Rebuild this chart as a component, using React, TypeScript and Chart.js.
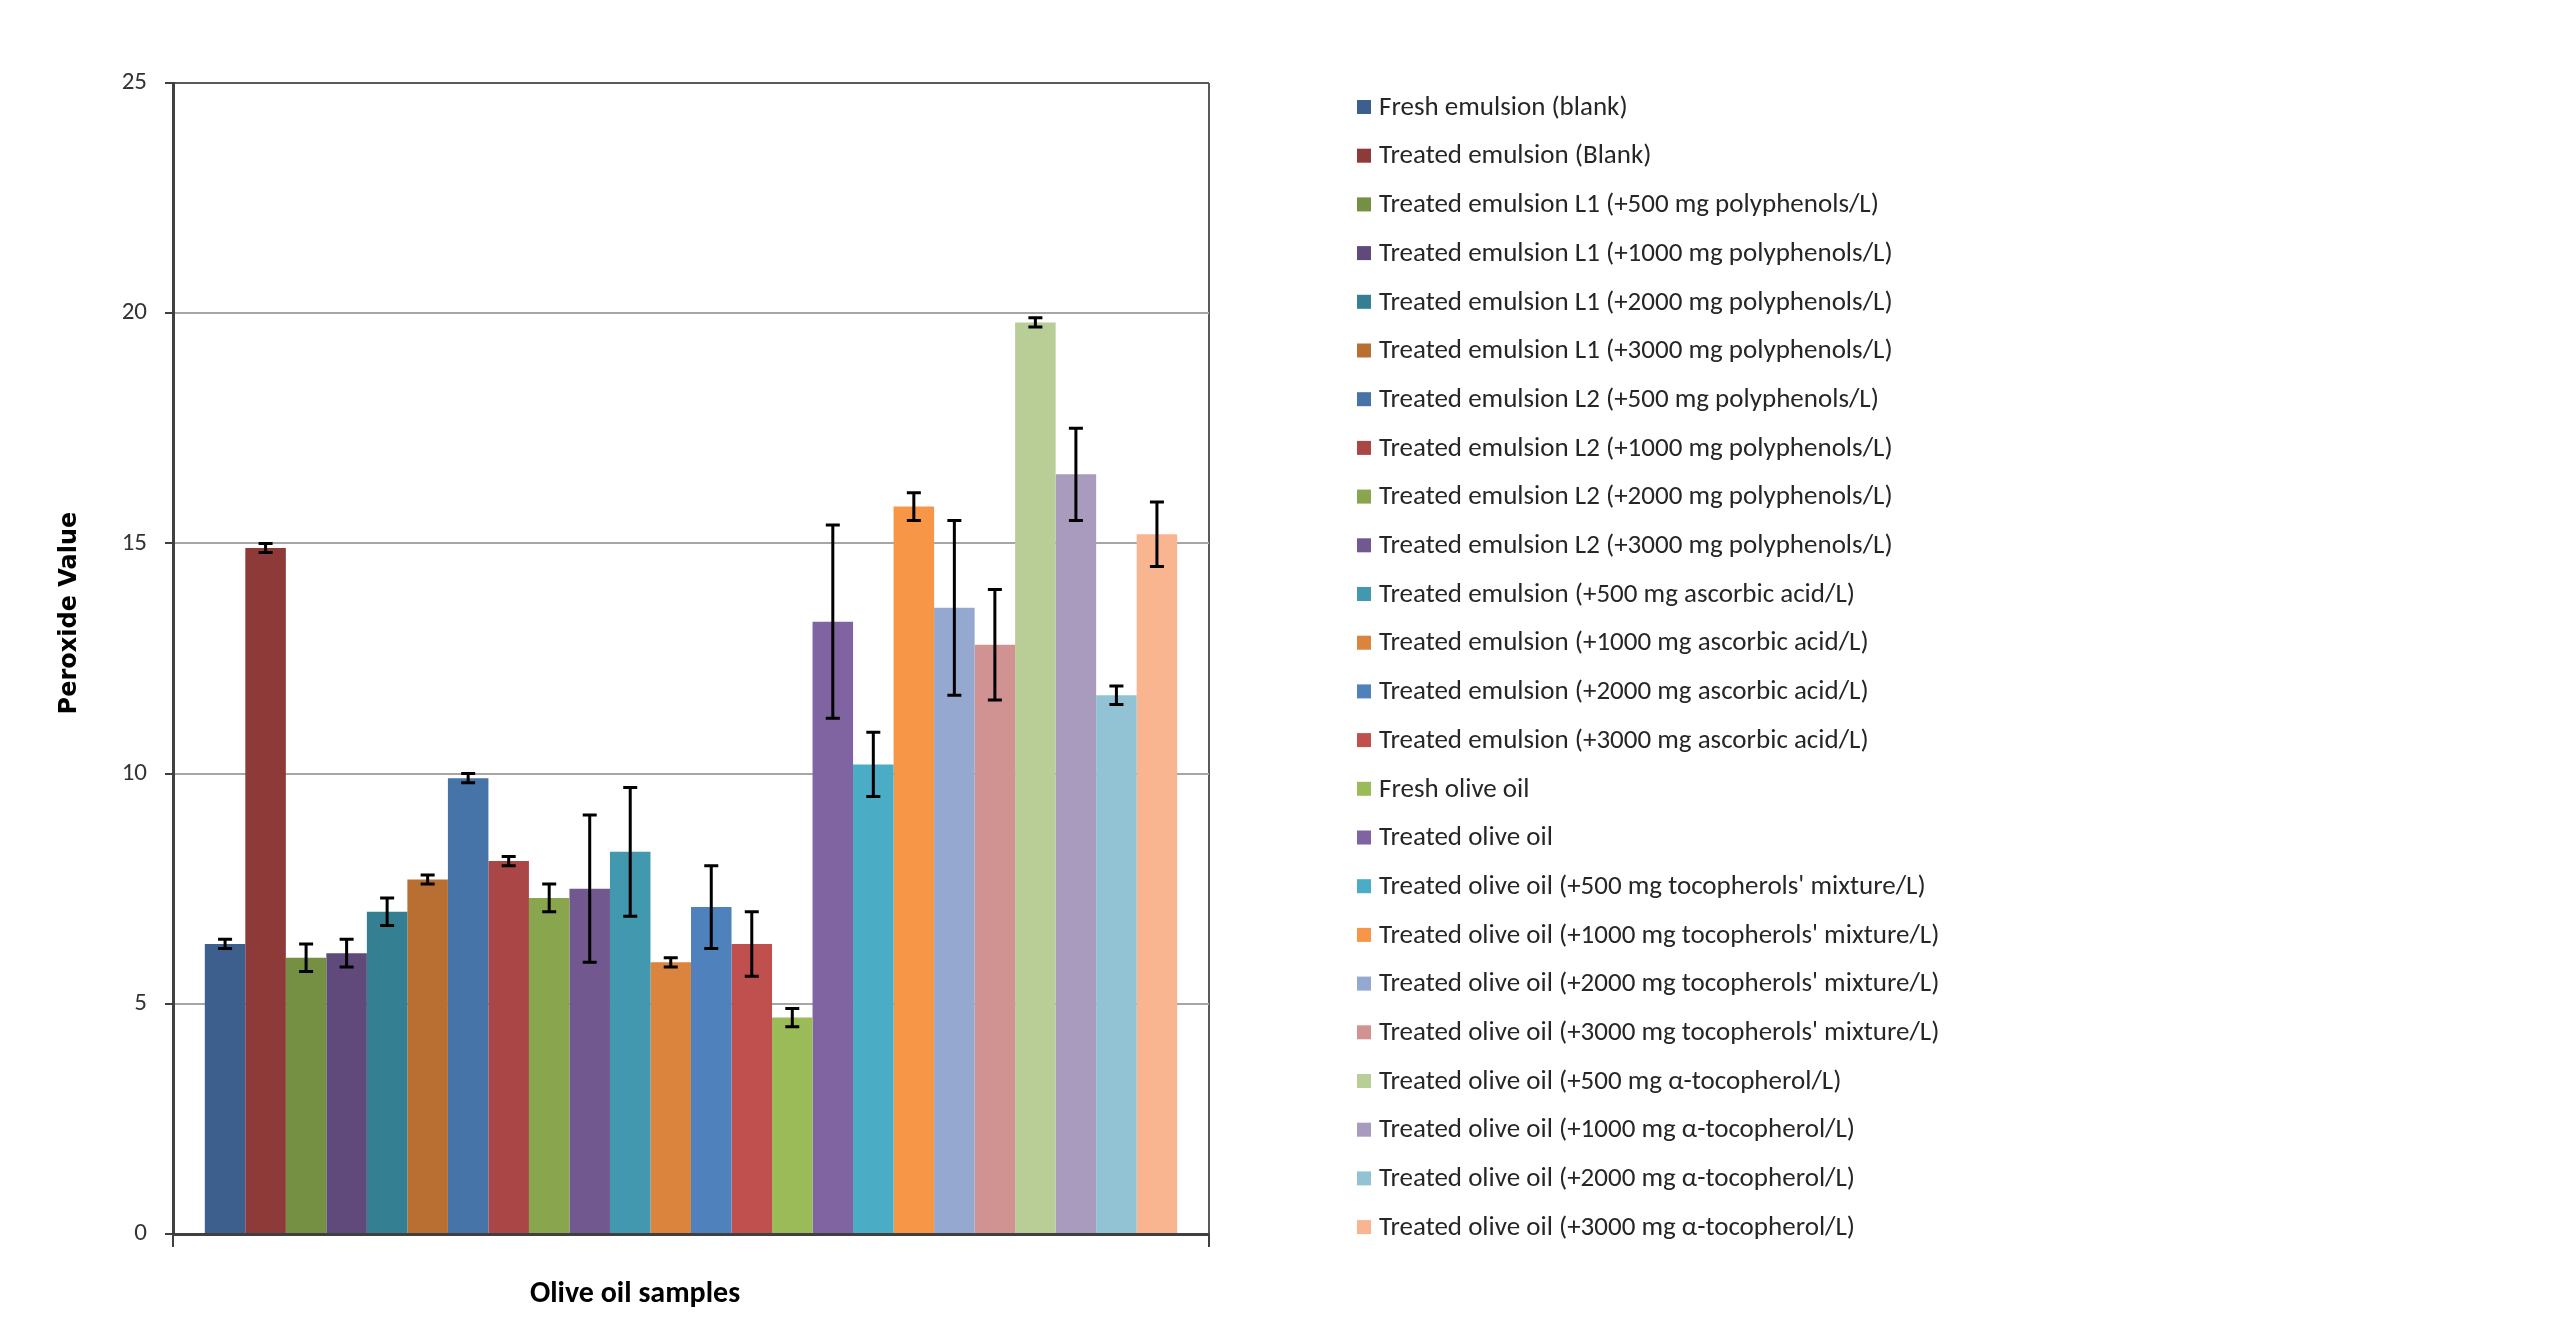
import React, { useEffect, useRef } from 'react';
import { Chart, registerables } from 'chart.js';

Chart.register(...registerables);

const categories = [''];

const seriesNames = [
  'Fresh emulsion (blank)',
  'Treated emulsion (Blank)',
  'Treated emulsion L1 (+500 mg polyphenols/L)',
  'Treated emulsion L1 (+1000 mg polyphenols/L)',
  'Treated emulsion L1 (+2000 mg polyphenols/L)',
  'Treated emulsion L1 (+3000 mg polyphenols/L)',
  'Treated emulsion L2 (+500 mg polyphenols/L)',
  'Treated emulsion L2 (+1000 mg polyphenols/L)',
  'Treated emulsion L2 (+2000 mg polyphenols/L)',
  'Treated emulsion L2 (+3000 mg polyphenols/L)',
  'Treated emulsion (+500 mg ascorbic acid/L)',
  'Treated emulsion (+1000 mg ascorbic acid/L)',
  'Treated emulsion (+2000 mg ascorbic acid/L)',
  'Treated emulsion (+3000 mg ascorbic acid/L)',
  'Fresh olive oil',
  'Treated olive oil',
  "Treated olive oil (+500 mg tocopherols' mixture/L)",
  "Treated olive oil (+1000 mg tocopherols' mixture/L)",
  "Treated olive oil (+2000 mg tocopherols' mixture/L)",
  "Treated olive oil (+3000 mg tocopherols' mixture/L)",
  'Treated olive oil (+500 mg α-tocopherol/L)',
  'Treated olive oil (+1000 mg α-tocopherol/L)',
  'Treated olive oil (+2000 mg α-tocopherol/L)',
  'Treated olive oil (+3000 mg α-tocopherol/L)',
];

const seriesValues = [
  6.3, 14.9, 6.0, 6.1, 7.0, 7.7, 9.9, 8.1, 7.3, 7.5, 8.3, 5.9,
  7.1, 6.3, 4.7, 13.3, 10.2, 15.8, 13.6, 12.8, 19.8, 16.5, 11.7, 15.2,
];

const seriesErrors = [
  0.1, 0.1, 0.3, 0.3, 0.3, 0.1, 0.1, 0.1, 0.3, 1.6, 1.4, 0.1,
  0.9, 0.7, 0.2, 2.1, 0.7, 0.3, 1.9, 1.2, 0.1, 1.0, 0.2, 0.7,
];

const seriesColors = [
  '#3C5F8E', '#8E3A38', '#758F43', '#5F4A7B', '#357F93', '#B96F31',
  '#4673A8', '#AA4645', '#89A54E', '#71588F', '#4198AF', '#DB843D',
  '#4F81BD', '#C0504D', '#9BBB59', '#8064A2', '#4BACC6', '#F79646',
  '#95A9D0', '#D19392', '#B9CD96', '#A99BBD', '#92C3D4', '#F9B590',
];

const yTickValues = [0, 5, 10, 15, 20, 25];
const yAxisTitle = 'Peroxide Value';
const xAxisTitle = 'Olive oil samples';

const FONT = "Carlito, 'Liberation Sans Narrow', Lato, sans-serif";

const errorBarPlugin = {
  id: 'errorBars',
  afterDatasetsDraw(chart: any) {
    const { ctx } = chart;
    const y = chart.scales.y;
    ctx.save();
    ctx.strokeStyle = '#000000';
    ctx.lineWidth = 3;
    chart.data.datasets.forEach((ds: any, i: number) => {
      const meta = chart.getDatasetMeta(i);
      const el = meta.data[0];
      if (!el) return;
      const v = seriesValues[i];
      const e = seriesErrors[i];
      const top = y.getPixelForValue(v + e);
      const bot = y.getPixelForValue(v - e);
      const x = el.x;
      const cap = 7;
      ctx.beginPath();
      ctx.moveTo(x, top);
      ctx.lineTo(x, bot);
      ctx.moveTo(x - cap, top);
      ctx.lineTo(x + cap, top);
      ctx.moveTo(x - cap, bot);
      ctx.lineTo(x + cap, bot);
      ctx.stroke();
    });
    ctx.restore();
  },
};

const legendAndTitlesPlugin = {
  id: 'legendAndTitles',
  afterDraw(chart: any) {
    const { ctx, chartArea } = chart;
    ctx.save();
    // Legend
    const x0 = chartArea.right + 148;
    const step = 48.7;
    const y0 = chartArea.top + 24;
    ctx.font = `27px ${FONT}`;
    ctx.textBaseline = 'middle';
    ctx.textAlign = 'left';
    chart.data.datasets.forEach((ds: any, i: number) => {
      const cy = y0 + i * step;
      ctx.fillStyle = ds.backgroundColor;
      ctx.fillRect(x0, cy - 7, 14, 14);
      ctx.fillStyle = '#262626';
      ctx.fillText(ds.label, x0 + 22, cy + 1);
    });
    // Y axis title
    ctx.save();
    ctx.translate(62, 605);
    ctx.rotate(-Math.PI / 2);
    ctx.font = "bold 24px 'DejaVu Sans', Verdana, sans-serif";
    ctx.textAlign = 'center';
    ctx.textBaseline = 'middle';
    ctx.fillStyle = '#000000';
    ctx.fillText(yAxisTitle, 0, 0);
    ctx.restore();
    // X axis title
    ctx.font = `bold 30px ${FONT}`;
    ctx.textAlign = 'center';
    ctx.textBaseline = 'middle';
    ctx.fillStyle = '#000000';
    ctx.fillText(xAxisTitle, 627, 1286);
    ctx.restore();
  },
};

export default function App() {
  const canvasRef = useRef<HTMLCanvasElement | null>(null);

  useEffect(() => {
    if (!canvasRef.current) return;
    const chart = new Chart(canvasRef.current, {
      type: 'bar',
      data: {
        labels: categories,
        datasets: seriesNames.map((name, i) => ({
          label: name,
          data: [seriesValues[i]],
          backgroundColor: seriesColors[i],
          borderWidth: 0,
          categoryPercentage: 0.9386,
          barPercentage: 1.0,
        })),
      },
      options: {
        animation: false,
        responsive: true,
        maintainAspectRatio: false,
        devicePixelRatio: 1,
        layout: { padding: { left: 0, top: 75, right: 1343, bottom: 0 } },
        plugins: {
          legend: { display: false },
          tooltip: { enabled: false },
          title: { display: false },
        },
        scales: {
          x: {
            type: 'category',
            offset: true,
            ticks: { display: false },
            grid: {
              display: true,
              drawOnChartArea: true,
              offset: true,
              color: '#5a5a5a',
              lineWidth: 2,
              tickLength: 13,
              tickColor: '#404040',
            },
            border: { display: true, color: '#404040', width: 3 },
            afterFit: (s: any) => { s.height = 97; },
          },
          y: {
            min: 0,
            max: 25,
            afterBuildTicks: (s: any) => { s.ticks = yTickValues.map((v) => ({ value: v })); },
            ticks: {
              font: { family: FONT, size: 25 },
              color: '#333333',
              padding: 18,
            },
            grid: {
              color: (c: any) => (c.tick && c.tick.value === 25 ? '#5a5a5a' : '#a6a6a6'),
              lineWidth: 2,
              tickLength: 8,
              tickColor: '#404040',
            },
            border: { display: true, color: '#404040', width: 3 },
            afterFit: (s: any) => { s.width = 165; },
          },
        },
      },
      plugins: [errorBarPlugin, legendAndTitlesPlugin],
    });
    return () => chart.destroy();
  }, []);

  return (
    <div style={{ position: 'relative', width: '2544px', height: '1323px' }}>
      <canvas ref={canvasRef} />
    </div>
  );
}
